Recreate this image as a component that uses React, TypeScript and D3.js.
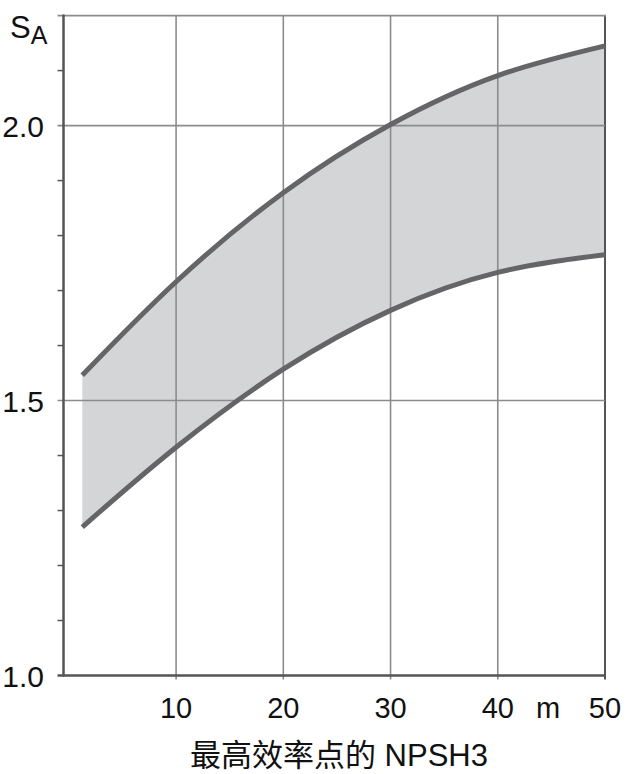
import React from "react";
import * as d3 from "d3";

const xValues = [1.25, 10, 20, 30, 40, 50];
const upperSA = [1.546, 1.716, 1.878, 2.002, 2.091, 2.145];
const lowerSA = [1.27, 1.415, 1.557, 1.664, 1.733, 1.765];
const xTicks = [10, 20, 30, 40, 50];
const yTicks = [1.0, 1.5, 2.0];
const yMinorTicks = [1.1, 1.2, 1.3, 1.4, 1.6, 1.7, 1.8, 1.9, 2.1];
const xTitle = "最高效率点的 NPSH3";
const unitLabel = "m";

const W = 628;
const H = 774;
const left = 63.5;
const right = 605;
const top = 15;
const bottom = 675.5;

export default function App() {
  const x = d3.scaleLinear().domain([-0.5, 50]).range([left, right]);
  const y = d3.scaleLinear().domain([1.0, 2.2]).range([bottom, top + 0.6]);
  const data = xValues.map((v, i) => ({ x: v, u: upperSA[i], l: lowerSA[i] }));
  const curve = d3.curveNatural;
  const area = d3
    .area<any>()
    .x((d) => x(d.x))
    .y0((d) => y(d.l))
    .y1((d) => y(d.u))
    .curve(curve);
  const lineU = d3.line<any>().x((d) => x(d.x)).y((d) => y(d.u)).curve(curve);
  const lineL = d3.line<any>().x((d) => x(d.x)).y((d) => y(d.l)).curve(curve);
  const font = "'Liberation Sans', Arial, 'Noto Sans CJK SC', sans-serif";
  const gridColor = "#8c8c8c";
  const axisColor = "#555";
  const textColor = "#111";

  return (
    <svg
      width={W}
      height={H}
      style={{ position: "absolute", left: 0, top: 0, background: "#fff" }}
      fontFamily={font}
    >
      <path d={area(data) || ""} fill="#d4d5d7" />
      {xTicks.map((t) => (
        <line
          key={"gx" + t}
          x1={x(t)}
          x2={x(t)}
          y1={top}
          y2={bottom + 4}
          stroke={t === 50 ? axisColor : gridColor}
          strokeWidth={t === 50 ? 2 : 1.6}
        />
      ))}
      {yTicks.slice(1).map((t) => (
        <line
          key={"gy" + t}
          x1={left - 6}
          x2={right}
          y1={y(t)}
          y2={y(t)}
          stroke={gridColor}
          strokeWidth={1.6}
        />
      ))}
      <line x1={left - 6} x2={right + 1} y1={y(2.2)} y2={y(2.2)} stroke={gridColor} strokeWidth={1.8} />
      {yMinorTicks.map((t) => (
        <line
          key={"m" + t}
          x1={left - 6}
          x2={left}
          y1={y(t)}
          y2={y(t)}
          stroke={axisColor}
          strokeWidth={1.5}
        />
      ))}
      <line x1={left} x2={left} y1={top - 0.5} y2={bottom + 1} stroke={axisColor} strokeWidth={2.5} />
      <line x1={left - 6} x2={right + 1} y1={bottom} y2={bottom} stroke={axisColor} strokeWidth={2.5} />
      <path d={lineU(data) || ""} fill="none" stroke="#656567" strokeWidth={5} />
      <path d={lineL(data) || ""} fill="none" stroke="#656567" strokeWidth={5} />
      {yTicks.map((t) => (
        <text
          key={"yl" + t}
          x={44}
          y={y(t) + 11}
          textAnchor="end"
          fontSize={30}
          fill={textColor}
        >
          {t.toFixed(1)}
        </text>
      ))}
      {xTicks.map((t) => (
        <text key={"xl" + t} x={x(t)} y={718} textAnchor="middle" fontSize={29} fill={textColor}>
          {t}
        </text>
      ))}
      <text x={548} y={718} textAnchor="middle" fontSize={29} fill={textColor}>
        {unitLabel}
      </text>
      <text x={10} y={38} fontSize={31} fill={textColor}>
        S
        <tspan fontSize={25} dy={6}>
          A
        </tspan>
      </text>
      <text x={339} y={766} textAnchor="middle" fontSize={31} fill={textColor}>
        {xTitle}
      </text>
    </svg>
  );
}
